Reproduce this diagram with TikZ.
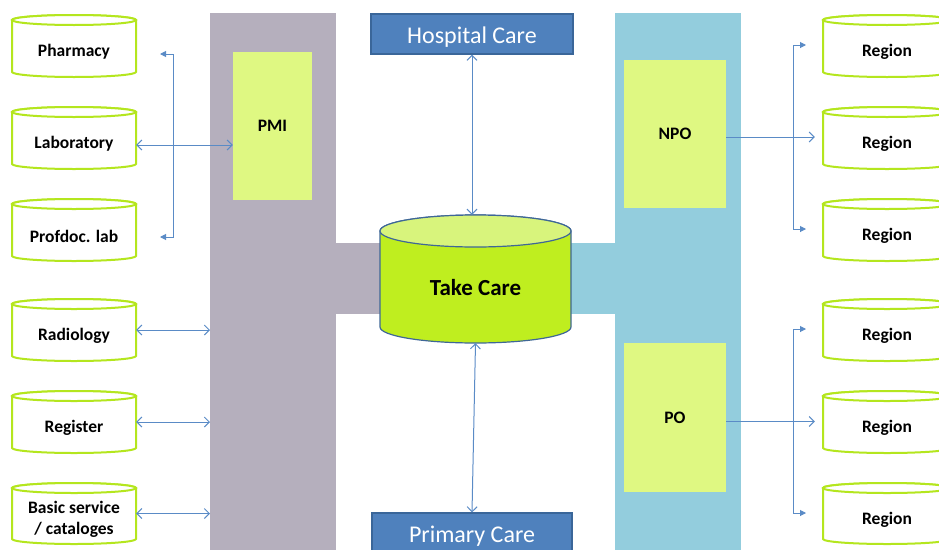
\documentclass[tikz,border=0pt]{standalone}
\usepackage{fontspec}
\setmainfont{Carlito}
\usetikzlibrary{arrows.meta}
\definecolor{bargray}{HTML}{B5AFBD}
\definecolor{barblue}{HTML}{93CDDD}
\definecolor{boxyel}{HTML}{DFF882}
\definecolor{cylgreen}{HTML}{B4E61E}
\definecolor{tcbody}{HTML}{BFEE1F}
\definecolor{tctop}{HTML}{D8F47C}
\definecolor{tcedge}{HTML}{3F6797}
\definecolor{hbox}{HTML}{4F81BD}
\definecolor{hedge}{HTML}{3A6699}
\definecolor{arrowc}{HTML}{5A8BC6}
\tikzset{
  cylbody/.style={fill=white, draw=cylgreen, line width=2pt},
  cyllabel/.style={font=\bfseries\fontsize{17.5}{21}\selectfont, align=center, inner sep=0pt},
  innerbox/.style={fill=boxyel, draw=none, font=\bfseries\fontsize{17.5}{21}\selectfont, inner sep=0pt},
  carebox/.style={fill=hbox, draw=hedge, line width=1.2pt, text=white, font=\fontsize{24}{28}\selectfont, inner sep=0pt, text height=18pt, text depth=0pt},
  dbl/.style={draw=arrowc, line width=1pt, {Straight Barb[length=5pt,width=10pt]}-{Straight Barb[length=5pt,width=10pt]}},
  single/.style={draw=arrowc, line width=1pt, -{Straight Barb[length=5pt,width=10pt]}},
  bracketarr/.style={draw=arrowc, line width=1pt, {Triangle[length=6pt,width=6pt]}-{Triangle[length=6pt,width=6pt]}},
}
% #1 name, #2 x0, #3 x1, #4 ytop, #5 ybot, #6 ry, #7 text
\newcommand\cylnode[7]{%
  \path[cylbody] ({#2},{-(#4)-(#6)}) -- ({#2},{-(#5)+(#6)})
    arc[start angle=180,end angle=360,x radius={((#3)-(#2))/2},y radius={#6}]
    -- ({#3},{-(#4)-(#6)})
    arc[start angle=0,end angle=180,x radius={((#3)-(#2))/2},y radius={#6}] -- cycle;
  \path[cylbody] ({((#2)+(#3))/2},{-(#4)-(#6)}) ellipse[x radius={((#3)-(#2))/2},y radius={#6}];
  \node[inner sep=0pt, minimum width={(#3)-(#2)}, minimum height={(#5)-(#4)},
    label={[name=#1-t, cyllabel, yshift=-6pt]center:#7}] (#1) at ({((#2)+(#3))/2},{-((#4)+(#5))/2}) {};
}
\begin{document}
\begin{tikzpicture}[x=1pt,y=1pt]
\useasboundingbox (0,0) rectangle (939,-549);
\clip (0,0) rectangle (939,-549);
% bars
\node[fill=bargray, inner sep=0pt, minimum width=126pt, minimum height=545pt, anchor=north west] (lbar) at (210,-13) {};
\node[fill=barblue, inner sep=0pt, minimum width=126pt, minimum height=545pt, anchor=north west] (rbar) at (615,-13) {};
\fill[bargray] (330,-243) rectangle (480,-314);
\fill[barblue] (470,-243) rectangle (620,-314);
% inner boxes
\node[innerbox, minimum width=79pt, minimum height=148pt] (pmi) at (272.5,-126) {PMI};
\node[innerbox, minimum width=102pt, minimum height=148pt] (npo) at (675,-134) {NPO};
\node[innerbox, minimum width=102pt, minimum height=149pt] (po) at (675,-417.5) {PO};
% care boxes
\node[carebox, minimum width=202pt, minimum height=40pt] (hosp) at (472,-34) {Hospital Care};
\node[carebox, minimum width=200pt, minimum height=40pt] (prim) at (472,-533) {Primary Care};
% Take Care cylinder
\path[fill=tcbody, draw=tcedge, line width=1.2pt] (380,-231) -- (380,-327)
  arc[start angle=180,end angle=360,x radius=95.5,y radius=16] -- (571,-231)
  arc[start angle=0,end angle=180,x radius=95.5,y radius=16] -- cycle;
\path[fill=tctop, draw=tcedge, line width=1.2pt] (475.5,-231) ellipse[x radius=95.5,y radius=16];
\node[inner sep=0pt, minimum width=191pt, minimum height=128pt,
  label={[name=tc-t, font=\bfseries\fontsize{23}{27}\selectfont, yshift=-9pt]center:Take Care}] (tc) at (475.5,-279) {};
% left cylinders
\cylnode{ph}{12}{136}{15}{77}{5}{Pharmacy}
\cylnode{lab}{12}{136}{107}{169}{5}{Laboratory}
\cylnode{pdl}{12}{136}{199}{261}{5}{Profdoc. lab}
\cylnode{rad}{12}{136}{299}{361}{5}{Radiology}
\cylnode{reg}{12}{136}{391}{453}{5}{Register}
\cylnode{bas}{12}{136}{483}{544}{5}{Basic service\\/ cataloges}
% right cylinders
\cylnode{r1}{823}{951}{15}{77}{5}{Region}
\cylnode{r2}{823}{951}{107}{169}{5}{Region}
\cylnode{r3}{823}{951}{199}{261}{5}{Region}
\cylnode{r4}{823}{951}{299}{361}{5}{Region}
\cylnode{r5}{823}{951}{391}{453}{5}{Region}
\cylnode{r6}{823}{951}{483}{544}{5}{Region}
% coordinates for bracket ends
\coordinate (la) at (160,-54);
\coordinate (lb) at (160,-237);
\coordinate (ra) at (806,-45);
\coordinate (rb) at (806,-229);
\coordinate (rc) at (806,-329);
\coordinate (rd) at (806,-513);
% connectors
\draw[bracketarr] (la) -- ++(13,0) |- (lb);
\draw[dbl] ([yshift=-7pt]lab.east) -- ([yshift=-7pt]lab.east -| pmi.west);
\draw[dbl] (rad.east) -- (rad.east -| lbar.west);
\draw[dbl] (reg.east) -- (reg.east -| lbar.west);
\draw[dbl] (bas.east) -- (bas.east -| lbar.west);
\draw[dbl] (hosp.south) -- (hosp.south |- tc.north);
\draw[dbl] (tc.south) -- (prim.north);
\draw[single, shorten >=8pt] ([yshift=-3pt]npo.east) -- ([yshift=-3pt]npo.east -| r2.west);
\draw[single, shorten >=8pt] ([yshift=-4pt]po.east) -- ([yshift=-4pt]po.east -| r5.west);
\draw[bracketarr] (ra) -- ++(-13,0) |- (rb);
\draw[bracketarr] (rc) -- ++(-13,0) |- (rd);
\end{tikzpicture}
\end{document}
